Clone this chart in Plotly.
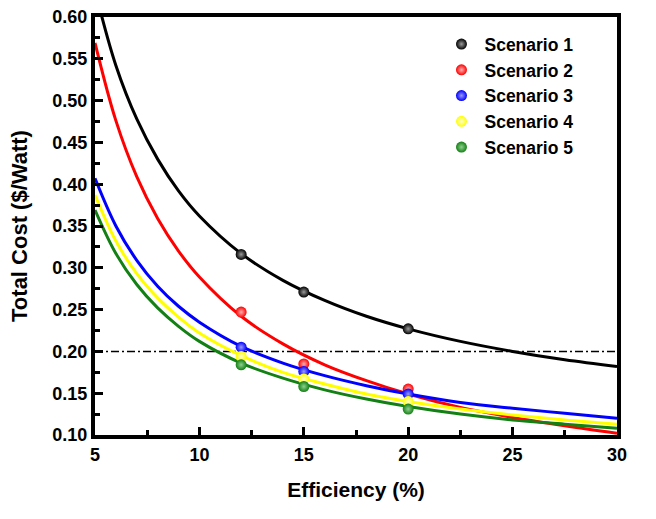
import plotly.graph_objects as go

# ---- data ----
point_x = [12, 15, 20]
scenario_names = ["Scenario 1", "Scenario 2", "Scenario 3", "Scenario 4", "Scenario 5"]
s1_points = [0.316, 0.271, 0.227]
s2_points = [0.247, 0.185, 0.155]
s3_points = [0.205, 0.176, 0.149]
s4_points = [0.194, 0.167, 0.140]
s5_points = [0.184, 0.158, 0.131]

curve_x = [5, 6, 7, 8, 9, 10, 12, 14, 16, 18, 20, 22.5, 25, 27.5, 30]
s1_curve = [0.632, 0.542, 0.478, 0.430, 0.392, 0.362, 0.317, 0.285, 0.261, 0.242, 0.227, 0.212, 0.200, 0.190, 0.182]
s2_curve = [0.569, 0.476, 0.409, 0.359, 0.320, 0.289, 0.242, 0.209, 0.184, 0.165, 0.149, 0.133, 0.121, 0.111, 0.102]
s3_curve = [0.407, 0.350, 0.309, 0.278, 0.254, 0.235, 0.206, 0.186, 0.171, 0.159, 0.149, 0.139, 0.132, 0.126, 0.120]
s4_curve = [0.387, 0.332, 0.293, 0.264, 0.241, 0.222, 0.195, 0.175, 0.161, 0.149, 0.140, 0.131, 0.124, 0.118, 0.113]
s5_curve = [0.369, 0.317, 0.280, 0.252, 0.230, 0.212, 0.186, 0.168, 0.154, 0.143, 0.134, 0.125, 0.118, 0.113, 0.108]

threshold_x = [5, 30]
threshold_y = [0.20, 0.20]

# ---- styles ----
colors = ["#000000", "#ff0000", "#0000ff", "#ffff00", "#138013"]
highlight = ["#9a9a9a", "#ffb0b0", "#9a9aff", "#ffffd0", "#8fd08f"]

points = [s1_points, s2_points, s3_points, s4_points, s5_points]
curves = [s1_curve, s2_curve, s3_curve, s4_curve, s5_curve]

FONT = "Liberation Sans, Arial, sans-serif"

fig = go.Figure()

fig.add_trace(go.Scatter(
    x=threshold_x, y=threshold_y, mode="lines",
    line=dict(color="black", width=1.5, dash="8px,3px,2px,3px"),
    showlegend=False, hoverinfo="skip"))

for c, col in zip(curves, colors):
    fig.add_trace(go.Scatter(
        x=curve_x, y=c, mode="lines",
        line=dict(color=col, width=3, shape="spline", smoothing=1.0),
        showlegend=False, hoverinfo="skip"))

for name, p, col, hl in zip(scenario_names, points, colors, highlight):
    fig.add_trace(go.Scatter(
        x=point_x, y=p, mode="markers", name=name,
        marker=dict(color=col, size=11, line=dict(width=0),
                    gradient=dict(type="radial", color=hl))))

fig.update_layout(
    width=656, height=519,
    margin=dict(l=95, r=39, t=17, b=84, autoexpand=False),
    paper_bgcolor="white", plot_bgcolor="white",
    font=dict(family=FONT, size=17, color="black", weight="bold"),
    legend=dict(x=0.658, y=0.978, xanchor="left", yanchor="top",
                bgcolor="rgba(0,0,0,0)", borderwidth=0,
                font=dict(family=FONT, size=17.5, color="black", weight="bold"),
                itemwidth=36, tracegroupgap=0),
    showlegend=True,
)

fig.update_xaxes(
    range=[5, 30], tick0=5, dtick=5, automargin=False,
    showgrid=False, zeroline=False,
    showline=True, linecolor="black", linewidth=4, mirror=True,
    ticks="inside", ticklen=8, tickwidth=3, tickcolor="black",
    minor=dict(ticks="inside", ticklen=5, tickwidth=3, tickcolor="black", dtick=2.5, tick0=5, showgrid=False),
    tickfont=dict(family=FONT, size=18, weight="bold"),
    title=dict(text="Efficiency (%)", font=dict(family=FONT, size=21, weight="bold"), standoff=20),
)
fig.update_yaxes(
    range=[0.10, 0.60], tick0=0.10, dtick=0.05, tickformat=".2f", automargin=False,
    showgrid=False, zeroline=False,
    showline=True, linecolor="black", linewidth=4, mirror=True,
    ticks="inside", ticklen=8, tickwidth=3, tickcolor="black",
    minor=dict(ticks="inside", ticklen=5, tickwidth=3, tickcolor="black", dtick=0.025, tick0=0.1, showgrid=False),
    tickfont=dict(family=FONT, size=18, weight="bold"),
    title=dict(text="Total Cost ($/Watt)", font=dict(family=FONT, size=22, weight="bold"), standoff=20),
)

fig.write_html("out.html", config={"displayModeBar": False},
               post_script="document.body.style.margin='0';")
